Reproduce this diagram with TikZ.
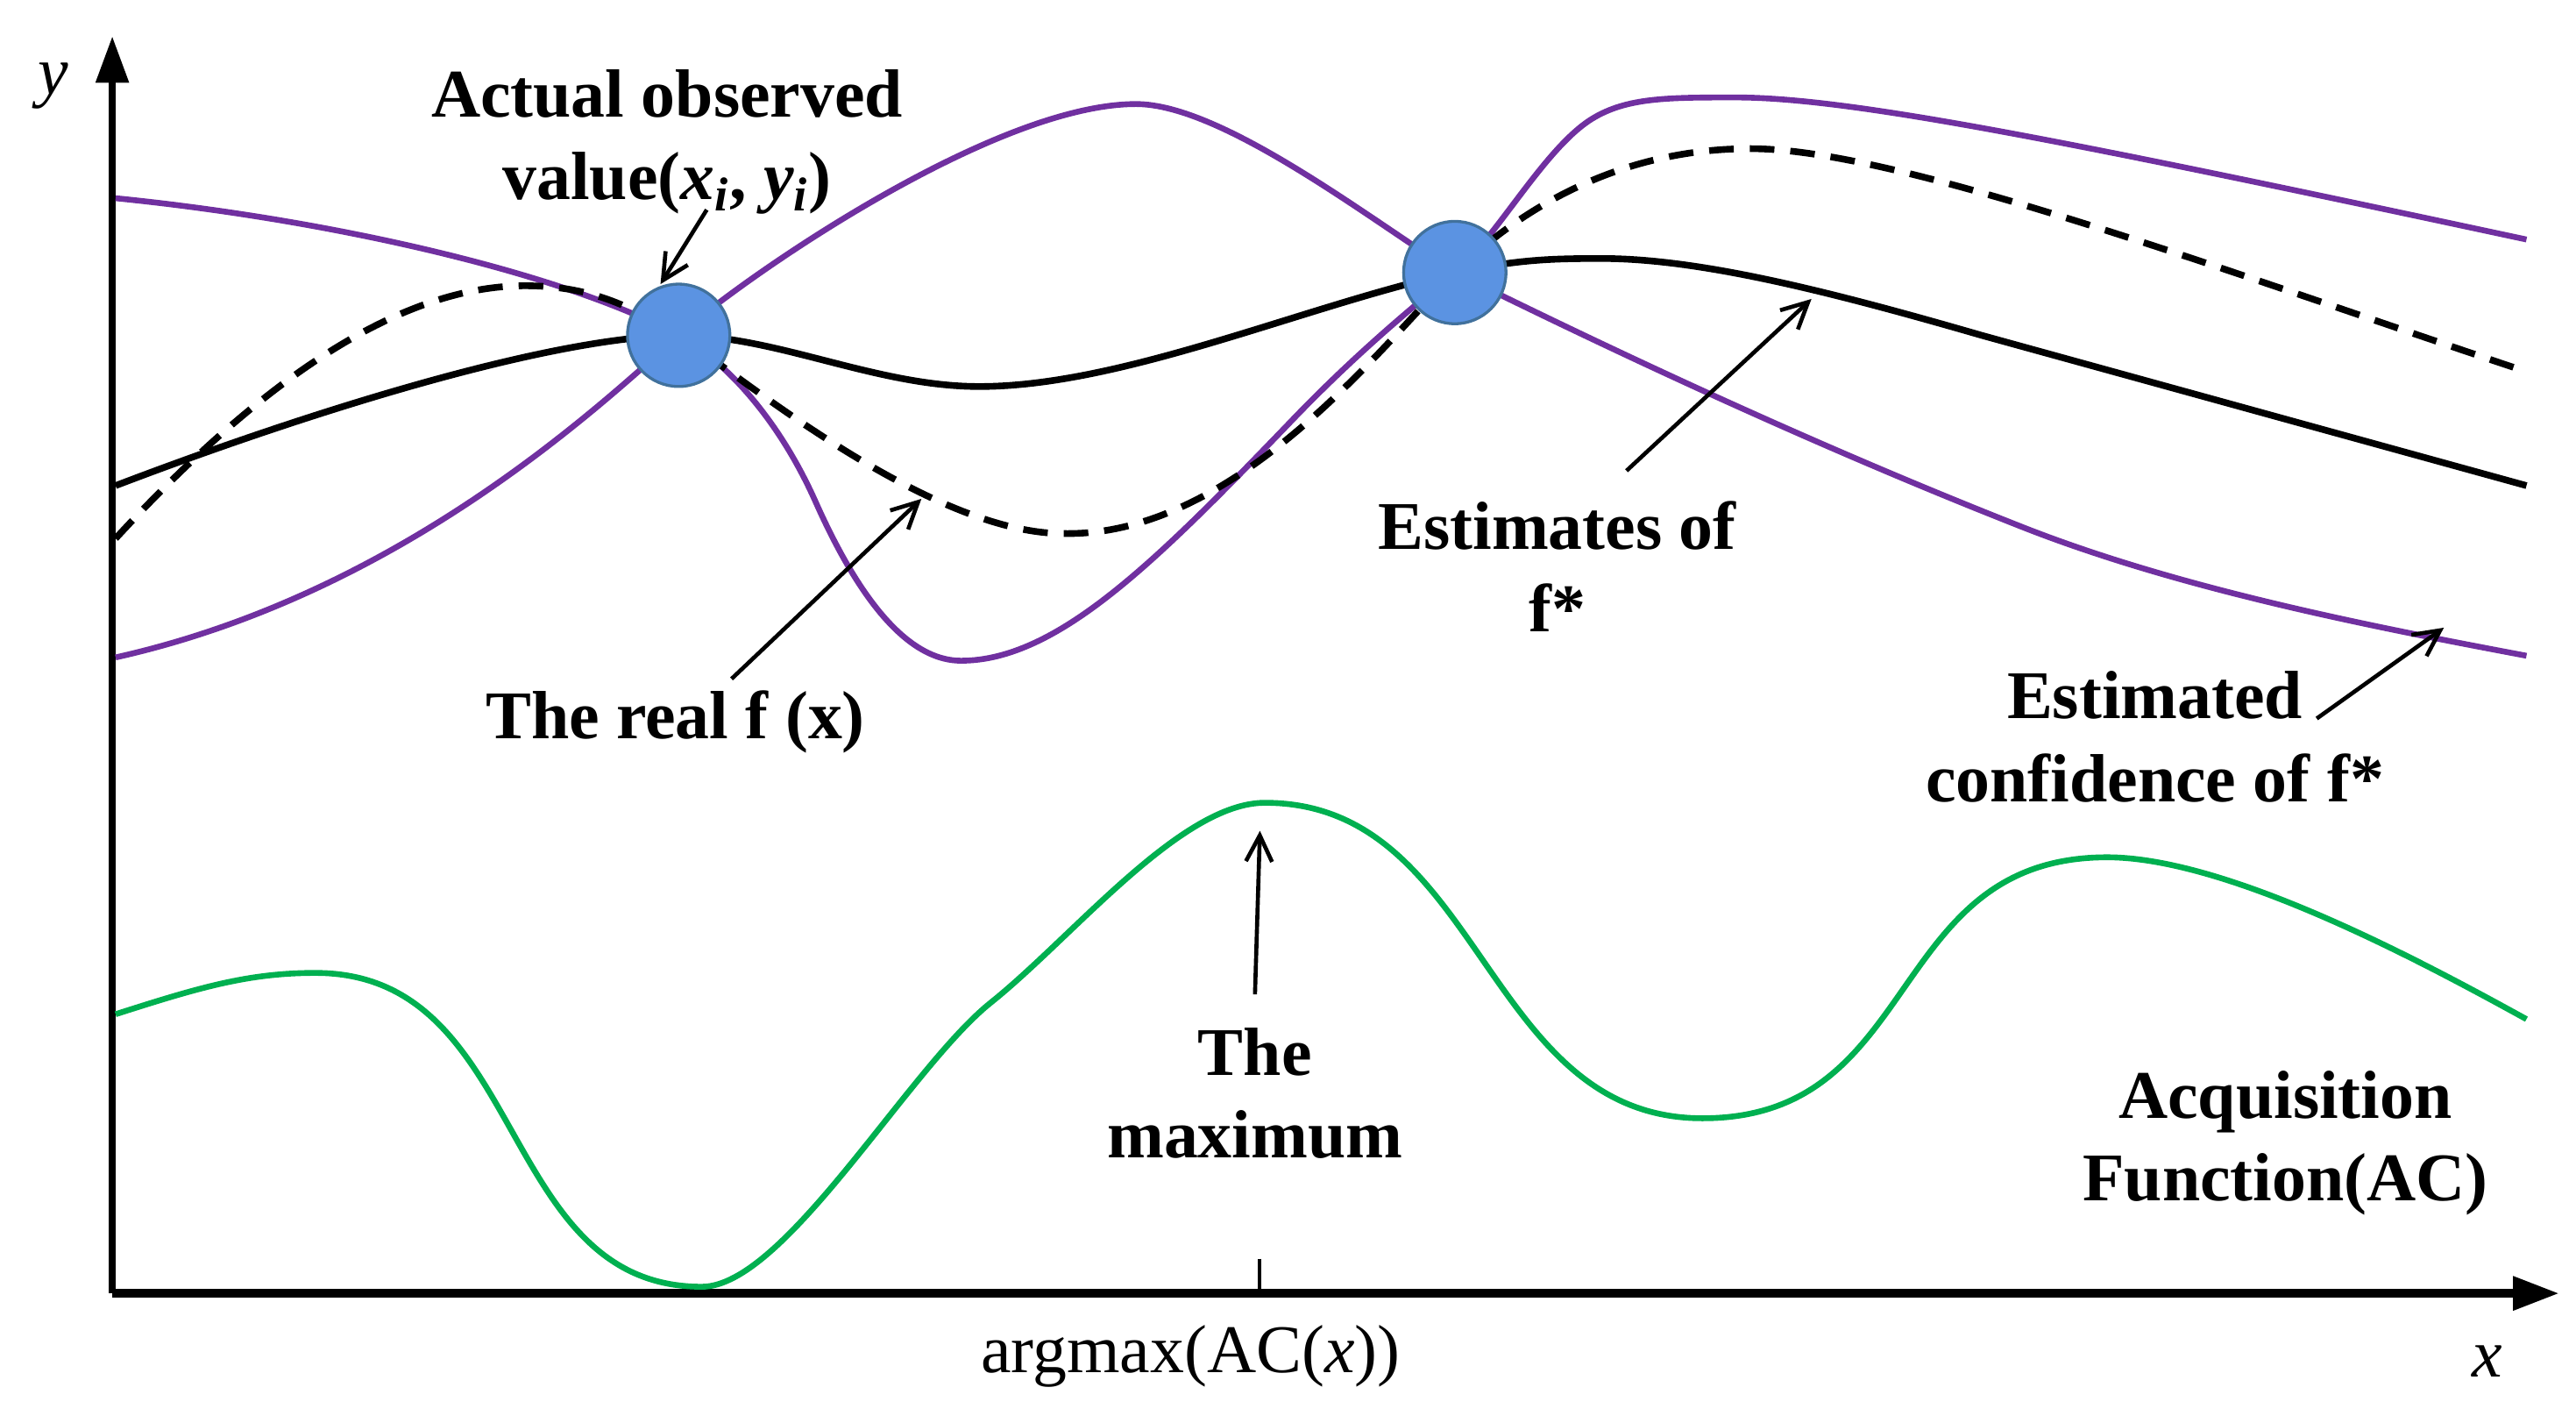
\documentclass[tikz,border=0pt]{standalone}
\usepackage{fontspec}
\setmainfont{Liberation Serif}
\usetikzlibrary{arrows.meta}
\definecolor{cpurple}{HTML}{7030A0}
\definecolor{cgreen}{HTML}{00B050}
\definecolor{cblue}{HTML}{5B93E2}
\definecolor{cblueb}{HTML}{41719C}
\begin{document}
\begin{tikzpicture}[x=0.02cm,y=-0.02cm,
  lbl/.style={font=\fontsize{23.5}{28.5}\selectfont\bfseries,align=center,inner sep=0pt},
  axlbl/.style={font=\fontsize{23.5}{28.5}\selectfont,inner sep=0pt},
  purp/.style={cpurple,line width=2pt},
  est/.style={black,line width=2.3pt},
  realf/.style={black,line width=2.3pt,dash pattern=on 8.5pt off 5.5pt},
  acq/.style={cgreen,line width=2pt},
  obs/.style={circle,minimum size=1.24cm,inner sep=0pt,fill=cblue,draw=cblueb,line width=1pt},
  ptr/.style={line width=1.4pt,-{Straight Barb[length=9pt,width=9pt,line width=1.4pt]}},
  axis/.style={line width=2.3pt,-{Triangle[length=16pt,width=11pt]}}
]
\useasboundingbox (0,0) rectangle (1560,861);
% axes
\coordinate (O) at (68,783);
\coordinate (ytop) at (68,22);
\coordinate (xend) at (1550,783);
\draw[axis] (O) -- (ytop);
\draw[axis,line width=3.2pt] (O) -- (xend);
\node[axlbl,font=\fontsize{23.5}{28.5}\selectfont\itshape] (ylab) at (32,52) {y};
\node[axlbl,font=\fontsize{23.5}{28.5}\selectfont\itshape] (xlab) at (1506,824) {x};
\coordinate (tickt) at (763,762);
\coordinate (tickb) at (763,783);
\draw[line width=1.2pt] (tickt) -- (tickb);
\node[axlbl] (argmax) at (721,821) {argmax(AC(\textit{x}))};
% purple confidence curve A (upper-left, dip, upper-right)
\draw[purp] (70,120) .. controls (200,133) and (340,165) .. (411,203)
  .. controls (436,216.4) and (470,250) .. (494,304)
  .. controls (515,351) and (545,400) .. (582,400)
  .. controls (640,400) and (700,340) .. (780,257)
  .. controls (820,215) and (856,185.5) .. (881,165)
  .. controls (906,144.5) and (935,90) .. (964,72)
  .. controls (985,59) and (1010,59) .. (1051,59)
  .. controls (1120,59) and (1250,85) .. (1530,145);
% purple confidence curve B (lower-left, hump, lower-right)
\draw[purp] (70,398) .. controls (240,360) and (360,249) .. (411,203)
  .. controls (445,172) and (600,63) .. (688,63)
  .. controls (740,63) and (830,133) .. (881,165)
  .. controls (950,199) and (1080,262) .. (1222,318)
  .. controls (1320,357) and (1440,380) .. (1530,397);
% estimate (solid)
\draw[est] (70,294) .. controls (180,252) and (330,204) .. (411,203)
  .. controls (470,203) and (530,234) .. (593,234)
  .. controls (680,234) and (790,185) .. (881,165)
  .. controls (920,157) and (940,156.5) .. (970,156.5)
  .. controls (1030,156.5) and (1110,177) .. (1200,203)
  -- (1530,294);
% real f (dashed)
\draw[realf] (70,326) .. controls (140,250) and (230,173) .. (318,173)
  .. controls (360,173) and (385,187.4) .. (411,203)
  .. controls (440,221) and (560,323) .. (644,323)
  .. controls (750,325) and (840,205) .. (881,165)
  .. controls (920,127) and (980,90) .. (1060,90)
  .. controls (1150,90) and (1350,165) .. (1530,225);
% acquisition function
\draw[acq] (70,614) .. controls (120,598) and (150,589) .. (191,589)
  .. controls (320,589) and (300,779) .. (425,779)
  .. controls (475,779) and (550,647) .. (600,607)
  .. controls (650,567) and (715,486) .. (766,486)
  .. controls (898,486) and (898,677) .. (1031,677)
  .. controls (1165,677) and (1141,519) .. (1276,519)
  .. controls (1350,519) and (1470,584) .. (1530,617);
% observed points
\node[obs] (p1) at (411,203) {};
\node[obs] (p2) at (881,165) {};
% labels
\node[lbl] (tobs) at (404,86) {Actual observed\\value(\textit{x}\textsubscript{\textit{i}}, \textit{y}\textsubscript{\textit{i}})};
\node[lbl] (treal) at (409,437) {The real f (x)};
\node[lbl] (test) at (943,343) {Estimates of\\f*};
\node[lbl] (tconf) at (1305,446) {Estimated\\confidence of f*};
\node[lbl] (tmax) at (760,662) {The\\maximum};
\node[lbl] (tacq) at (1384,692) {Acquisition\\Function(AC)};
% pointer arrows
\coordinate (a1s) at (428,127); \coordinate (a1e) at (400,172);
\coordinate (a2s) at (443,411); \coordinate (a2e) at (558,302);
\coordinate (a3s) at (985,285); \coordinate (a3e) at (1097,181);
\coordinate (a4s) at (1403,435); \coordinate (a4e) at (1480,380);
\coordinate (a5s) at (760,602); \coordinate (a5e) at (763,503);
\draw[ptr] (a1s) -- (a1e);
\draw[ptr] (a2s) -- (a2e);
\draw[ptr] (a3s) -- (a3e);
\draw[ptr] (a4s) -- (a4e);
\draw[ptr] (a5s) -- (a5e);
\end{tikzpicture}
\end{document}
